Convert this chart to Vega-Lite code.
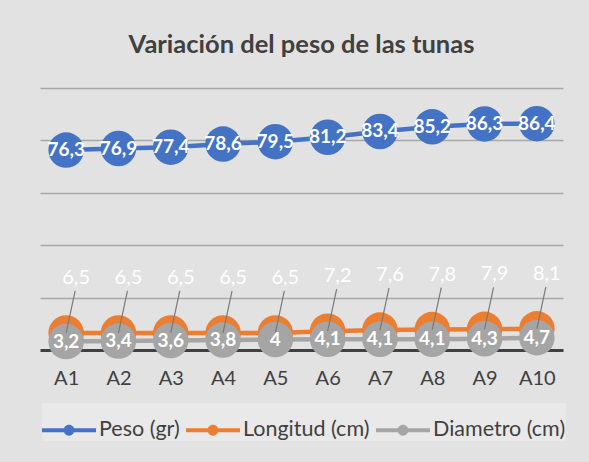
{
  "$schema": "https://vega.github.io/schema/vega-lite/v6.json",
  "width": 523,
  "height": 262,
  "autosize": {"type": "none"},
  "padding": {"left": 40, "top": 88, "right": 26, "bottom": 112},
  "background": "#e2e2e2",
  "config": {
    "locale": {"number": {"decimal": ",", "thousands": ".", "grouping": [3], "currency": ["", " €"]}},
    "view": {"stroke": null},
    "font": "Lato"
  },
  "title": {
    "text": "Variación del peso de las tunas",
    "font": "Lato",
    "fontSize": 25.5,
    "fontWeight": "bold",
    "color": "#404040",
    "anchor": "middle",
    "offset": 30
  },
  "data": {
    "values": [
      {"cat": "A1", "serie": "Peso (gr)", "valor": 76.3},
      {"cat": "A2", "serie": "Peso (gr)", "valor": 76.9},
      {"cat": "A3", "serie": "Peso (gr)", "valor": 77.4},
      {"cat": "A4", "serie": "Peso (gr)", "valor": 78.6},
      {"cat": "A5", "serie": "Peso (gr)", "valor": 79.5},
      {"cat": "A6", "serie": "Peso (gr)", "valor": 81.2},
      {"cat": "A7", "serie": "Peso (gr)", "valor": 83.4},
      {"cat": "A8", "serie": "Peso (gr)", "valor": 85.2},
      {"cat": "A9", "serie": "Peso (gr)", "valor": 86.3},
      {"cat": "A10", "serie": "Peso (gr)", "valor": 86.4},
      {"cat": "A1", "serie": "Longitud (cm)", "valor": 6.5},
      {"cat": "A2", "serie": "Longitud (cm)", "valor": 6.5},
      {"cat": "A3", "serie": "Longitud (cm)", "valor": 6.5},
      {"cat": "A4", "serie": "Longitud (cm)", "valor": 6.5},
      {"cat": "A5", "serie": "Longitud (cm)", "valor": 6.5},
      {"cat": "A6", "serie": "Longitud (cm)", "valor": 7.2},
      {"cat": "A7", "serie": "Longitud (cm)", "valor": 7.6},
      {"cat": "A8", "serie": "Longitud (cm)", "valor": 7.8},
      {"cat": "A9", "serie": "Longitud (cm)", "valor": 7.9},
      {"cat": "A10", "serie": "Longitud (cm)", "valor": 8.1},
      {"cat": "A1", "serie": "Diametro (cm)", "valor": 3.2},
      {"cat": "A2", "serie": "Diametro (cm)", "valor": 3.4},
      {"cat": "A3", "serie": "Diametro (cm)", "valor": 3.6},
      {"cat": "A4", "serie": "Diametro (cm)", "valor": 3.8},
      {"cat": "A5", "serie": "Diametro (cm)", "valor": 4},
      {"cat": "A6", "serie": "Diametro (cm)", "valor": 4.1},
      {"cat": "A7", "serie": "Diametro (cm)", "valor": 4.1},
      {"cat": "A8", "serie": "Diametro (cm)", "valor": 4.1},
      {"cat": "A9", "serie": "Diametro (cm)", "valor": 4.3},
      {"cat": "A10", "serie": "Diametro (cm)", "valor": 4.7}
    ]
  },
  "encoding": {
    "x": {
      "field": "cat",
      "type": "ordinal",
      "sort": ["A1", "A2", "A3", "A4", "A5", "A6", "A7", "A8", "A9", "A10"],
      "scale": {"type": "point", "padding": 0.5},
      "axis": {
        "title": null,
        "domain": true,
        "domainColor": "#404040",
        "domainWidth": 3,
        "ticks": false,
        "grid": false,
        "labelFont": "Lato",
        "labelFontSize": 20,
        "labelColor": "#404040",
        "labelPadding": 18,
        "labelAngle": 0
      }
    },
    "y": {
      "field": "valor",
      "type": "quantitative",
      "scale": {"domain": [0, 100]},
      "axis": {
        "title": null,
        "domain": false,
        "ticks": false,
        "labels": false,
        "grid": true,
        "gridColor": "#a8a8a8",
        "gridWidth": 1.3,
        "values": [20, 40, 60, 80, 100]
      }
    }
  },
  "layer": [
    {
      "mark": {"type": "line", "strokeWidth": 4.5},
      "encoding": {
        "color": {
          "field": "serie",
          "type": "nominal",
          "scale": {
            "domain": ["Peso (gr)", "Longitud (cm)", "Diametro (cm)"],
            "range": ["#4472c4", "#ed7d31", "#a5a5a5"]
          },
          "legend": {
            "title": null,
            "orient": "none",
            "legendX": 2,
            "legendY": 315,
            "direction": "horizontal",
            "columns": 3,
            "columnPadding": 6,
            "padding": 0,
            "fillColor": "#e9e9e9",
            "symbolType": "M-1,-0.07H1V0.07H-1Z M0.2,0A0.2,0.2,0,1,1,-0.2,0A0.2,0.2,0,1,1,0.2,0Z",
            "symbolSize": 2916,
            "symbolStrokeWidth": 0,
            "labelFont": "Lato",
            "labelFontSize": 21.5,
            "labelColor": "#404040",
            "labelOffset": 3,
            "encode": {
              "symbols": {
                "update": {
                  "fill": {"scale": "color", "field": "value"},
                  "stroke": {"value": "transparent"}
                }
              }
            }
          }
        }
      }
    },
    {
      "mark": {"type": "point", "filled": true, "opacity": 1, "size": 1260, "shape": "circle"},
      "encoding": {
        "color": {"field": "serie", "type": "nominal"}
      }
    },
    {
      "transform": [{"filter": "datum.serie === 'Longitud (cm)'"}],
      "mark": {"type": "rule", "color": "#7a7a7a", "strokeWidth": 1.2, "x2Offset": 9, "y2Offset": -42},
      "encoding": {
        "x2": {"field": "cat"},
        "y2": {"field": "valor"}
      }
    },
    {
      "transform": [{"filter": "datum.serie !== 'Longitud (cm)'"}],
      "mark": {"type": "text", "font": "Lato", "fontSize": 19, "fontWeight": "bold", "color": "white", "baseline": "middle", "align": "center"},
      "encoding": {
        "text": {"field": "valor", "type": "quantitative", "format": ".1~f"}
      }
    },
    {
      "transform": [{"filter": "datum.serie === 'Longitud (cm)'"}],
      "mark": {"type": "text", "font": "Lato", "fontSize": 20, "color": "white", "baseline": "middle", "align": "center", "dx": 10, "dy": -55},
      "encoding": {
        "text": {"field": "valor", "type": "quantitative", "format": ".1~f"}
      }
    }
  ]
}
